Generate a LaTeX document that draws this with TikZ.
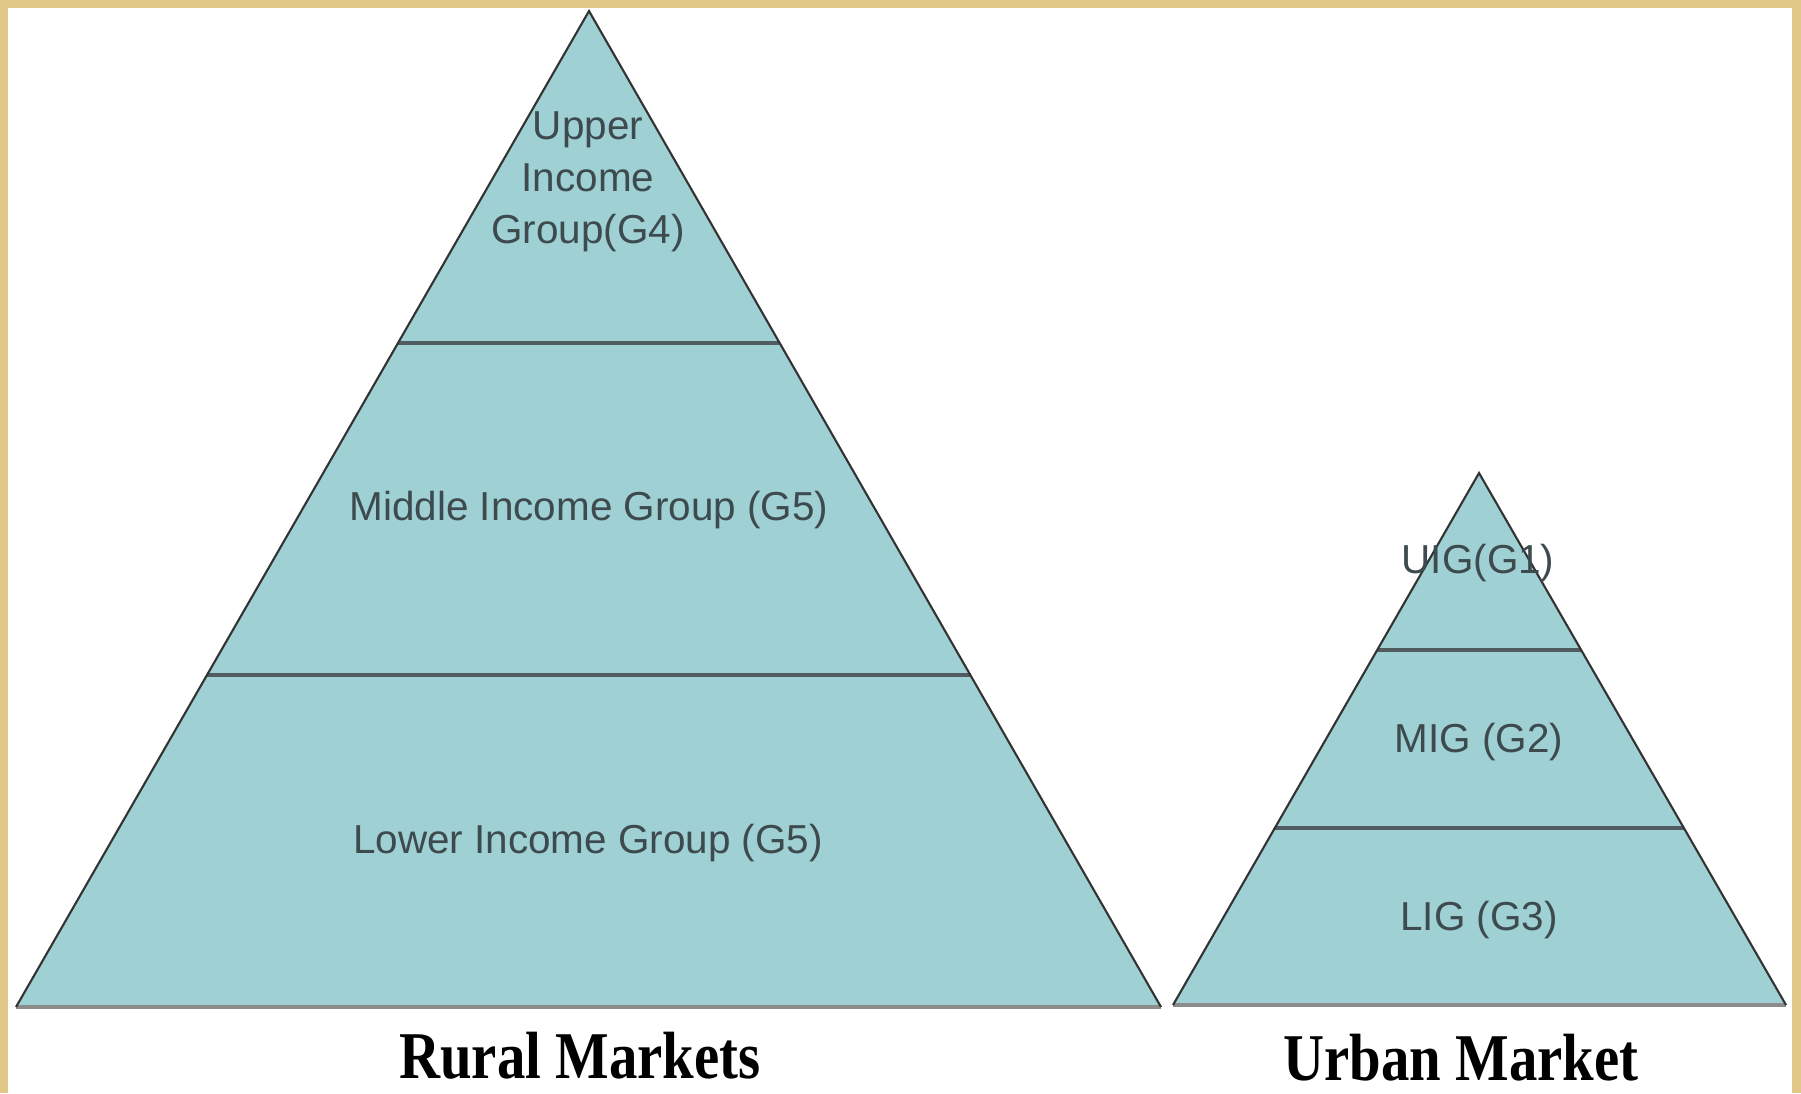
\documentclass[tikz,border=0pt]{standalone}
\usepackage{graphicx}
\usepackage{fontspec}
\setmainfont{Liberation Serif}
\setsansfont{Liberation Sans}
\usetikzlibrary{calc}

\definecolor{tier}{HTML}{9FD0D4}
\definecolor{frame}{HTML}{E2C888}
\definecolor{ink}{HTML}{3D4A4E}

\begin{document}
\begin{tikzpicture}[x=0.01cm,y=-0.01cm]
    \tikzset{
    layer/.style={fill=tier,draw=none},
    side/.style={draw=black!80,line width=0.6pt},
    base/.style={draw=black!45,line width=0.9pt},
    cut/.style={draw=ink!90,line width=1.2pt},
    lbl/.style={font=\sffamily\fontsize{11.5}{14.8}\selectfont,text=ink,align=center,inner sep=0pt},
    title/.style={font=\bfseries\fontsize{19}{22}\selectfont,anchor=base,inner sep=0pt},
    }
    % page frame
    \fill[frame] (0,0) rectangle (1801,1093);
    \fill[white] (8,8) rectangle (1792,1093);
    \useasboundingbox (0,0) rectangle (1801,1093);

    % rural pyramid
    \coordinate (r0) at (589,11);
    \coordinate (r1) at (16,1007);
    \coordinate (r2) at (1161,1007);
    % urban pyramid
    \coordinate (u0) at (1479,473);
    \coordinate (u1) at (1173,1005);
    \coordinate (u2) at (1786,1005);

    \foreach \p in {r,u} {
        \fill[layer] (\p0) -- (\p1) -- (\p2) -- cycle;
        \foreach \t in {0.333,0.667}
            \draw[cut] ($(\p0)!\t!(\p1)$) -- ($(\p0)!\t!(\p2)$);
        \draw[base] (\p1) -- (\p2);
        \draw[side] (\p1) -- (\p0) -- (\p2);
    }

    \node[lbl] (g4) at (588,182) {Upper\\Income\\Group(G4)};
    \node[lbl] (g5m) at (589,510) {Middle Income Group (G5)};
    \node[lbl] (g5l) at (588,843) {Lower Income Group (G5)};
    \node[lbl] (g1) at (1478,563) {UIG(G1)};
    \node[lbl] (g2) at (1479,742) {MIG (G2)};
    \node[lbl] (g3) at (1479,920) {LIG (G3)};

    \node[title] (rural) at (580,1078) {\scalebox{0.85}[1]{Rural Markets}};
    \node[title] (urban) at (1461,1080) {\scalebox{0.85}[1]{Urban Market}};

\end{tikzpicture}
\end{document}
